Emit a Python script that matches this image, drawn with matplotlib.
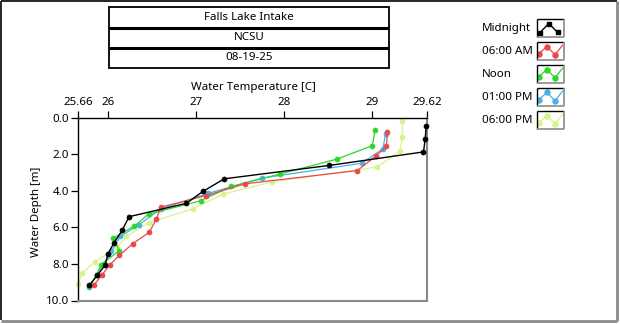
import matplotlib
matplotlib.use('Agg')
import matplotlib.pyplot as plt
from matplotlib.lines import Line2D
from matplotlib.patches import Rectangle

plt.rcParams['font.family'] = ['Noto Sans', 'DejaVu Sans']

# ---------------- data ----------------
title_lines = ["Falls Lake Intake", "NCSU", "08-19-25"]
series_names = ["Midnight", "06:00 AM", "Noon", "01:00 PM", "06:00 PM"]
series_colors = ["#000000", "#e84848", "#2cd62c", "#4cb0e8", "#d6f48c"]

midnight_temp = [29.61, 29.60, 29.58, 28.51, 27.32, 27.08, 26.89, 26.24, 26.16, 26.07, 26.00, 25.97, 25.88, 25.79]
midnight_depth = [0.44, 1.17, 1.88, 2.62, 3.35, 4.03, 4.69, 5.42, 6.17, 6.84, 7.44, 8.05, 8.62, 9.16]

am6_temp = [29.17, 29.16, 29.04, 28.83, 27.56, 27.11, 26.60, 26.55, 26.47, 26.28, 26.13, 26.02, 25.93, 25.84]
am6_depth = [0.79, 1.58, 2.10, 2.90, 3.62, 4.27, 4.90, 5.53, 6.27, 6.90, 7.53, 8.06, 8.61, 9.16]

noon_temp = [29.03, 29.00, 28.60, 27.95, 27.40, 27.05, 26.46, 26.30, 26.06, 26.13, 25.92, 25.87, 25.79]
noon_depth = [0.71, 1.54, 2.27, 3.09, 3.77, 4.55, 5.28, 5.93, 6.58, 7.28, 8.04, 8.62, 9.20]

pm1_temp = [29.15, 29.12, 28.88, 27.75, 27.14, 26.60, 26.35, 26.14, 26.04, 25.95, 25.87, 25.79]
pm1_depth = [0.88, 1.71, 2.50, 3.31, 4.14, 5.00, 5.86, 6.50, 7.29, 8.00, 8.60, 9.27]

pm6_temp = [29.34, 29.34, 29.31, 29.05, 27.86, 27.31, 26.96, 26.47, 26.21, 26.10, 25.85, 25.71, 25.66]
pm6_depth = [0.20, 1.08, 1.85, 2.71, 3.52, 4.19, 4.99, 5.74, 6.50, 7.10, 7.90, 8.49, 9.10]

series_temps = [midnight_temp, am6_temp, noon_temp, pm1_temp, pm6_temp]
series_depths = [midnight_depth, am6_depth, noon_depth, pm1_depth, pm6_depth]

xticks = [25.66, 26, 27, 28, 29, 29.62]
xtick_labels = ["25.66", "26", "27", "28", "29", "29.62"]
yticks = [0, 2, 4, 6, 8, 10]
ytick_labels = ["0.0", "2.0", "4.0", "6.0", "8.0", "10.0"]
x_label = "Water Temperature [C]"
y_label = "Water Depth [m]"

# ---------------- layout helpers ----------------
W, H = 620, 324
fig = plt.figure(figsize=(W / 100, H / 100), dpi=100)


def fx(px):
    return px / W


def fy(py):
    return 1 - py / H


GRAY = "#8a8a8a"
FS = 8.3


def fline(xs, ys, **kw):
    fig.add_artist(Line2D([fx(v) for v in xs], [fy(v) for v in ys],
                          solid_capstyle="butt", **kw))


# outer frame
fline([1, 1], [1, 320], color="black", lw=1.2)
fline([1, 617], [1, 1], color="black", lw=1.2)
fline([617, 617], [1, 320.5], color=GRAY, lw=2)
fline([1, 617], [320.5, 320.5], color=GRAY, lw=2)

# title boxes
bx0, bx1 = 109, 389
rows = [7.5, 27.5, 47.5, 67.5]
fig.add_artist(Rectangle((fx(bx0), fy(rows[-1])), fx(bx1 - bx0), (rows[-1] - rows[0]) / H,
                         fill=False, ec="black", lw=1.3))
for r in rows[1:-1]:
    fline([bx0, bx1], [r, r], color="black", lw=2.2)
for i, t in enumerate(title_lines):
    yc = (rows[i] + rows[i + 1]) / 2
    fig.text(fx((bx0 + bx1) / 2), fy(yc), t, ha="center", va="center", fontsize=FS)

# ---------------- main axes ----------------
ax_l, ax_r, ax_t, ax_b = 78, 427, 117.5, 300.5
ax = fig.add_axes([fx(ax_l), fy(ax_b), fx(ax_r - ax_l), (ax_b - ax_t) / H])
ax.set_xlim(25.66, 29.62)
ax.set_ylim(10, 0)

zorders = [6, 5, 4, 3, 2]
for name, col, t, d, z in zip(series_names, series_colors, series_temps, series_depths, zorders):
    ax.plot(t, d, color=col, lw=1.0 if col == "#000000" else 0.9, marker="o", ms=3.7,
            mew=0.4, mec=col, mfc=col, zorder=z, clip_on=False)

ax.xaxis.tick_top()
ax.set_xticks(xticks)
ax.set_xticklabels(xtick_labels)
ax.set_yticks(yticks)
ax.set_yticklabels(ytick_labels)
ax.tick_params(axis="both", direction="out", length=5, width=0.9, labelsize=FS, pad=1.5, colors="black")
ax.spines["top"].set_color("black")
ax.spines["left"].set_color("black")
ax.spines["right"].set_color(GRAY)
ax.spines["bottom"].set_color(GRAY)
for s in ["top", "left"]:
    ax.spines[s].set_linewidth(1.0)
for s in ["right", "bottom"]:
    ax.spines[s].set_linewidth(1.5)

fig.text(fx(253), fy(87), x_label, ha="center", va="center", fontsize=FS)
fig.text(fx(36), fy(212), y_label, ha="center", va="center", rotation=90, fontsize=FS)

# ---------------- legend ----------------
for i, (name, col) in enumerate(zip(series_names, series_colors)):
    yc = 28.3 + 23 * i
    fig.text(fx(482), fy(yc), name, ha="left", va="center", fontsize=FS)
    lx0, lx1 = 536.5, 563.5
    ly0, ly1 = yc - 9, yc + 9
    fline([lx0, lx1], [ly0, ly0], color="black", lw=1.0)
    fline([lx0, lx0], [ly0, ly1], color="black", lw=1.0)
    fline([lx1, lx1], [ly0, ly1], color=GRAY, lw=1.2)
    fline([lx0, lx1], [ly1, ly1], color=GRAY, lw=1.2)
    lax = fig.add_axes([fx(lx0 + 1), fy(ly1 - 1), fx(lx1 - lx0 - 2), (ly1 - ly0 - 2) / H])
    lax.set_xlim(0, 1)
    lax.set_ylim(1, 0)
    lax.axis("off")
    if i == 0:
        lax.plot([0.08, 0.45, 0.8], [0.8, 0.2, 0.75], color=col, lw=1.0)
        lax.plot([0.08, 0.45, 0.8], [0.8, 0.2, 0.75], ls="none", marker="s", ms=3.3, color=col)
    else:
        lax.plot([0.05, 0.38, 0.7, 1.0], [0.65, 0.2, 0.72, 0.12], color=col, lw=0.9)
        lax.plot([0.05, 0.38, 0.7], [0.65, 0.2, 0.72], ls="none", marker="o", ms=3.6, color=col)

fig.savefig("out.png", dpi=100)
